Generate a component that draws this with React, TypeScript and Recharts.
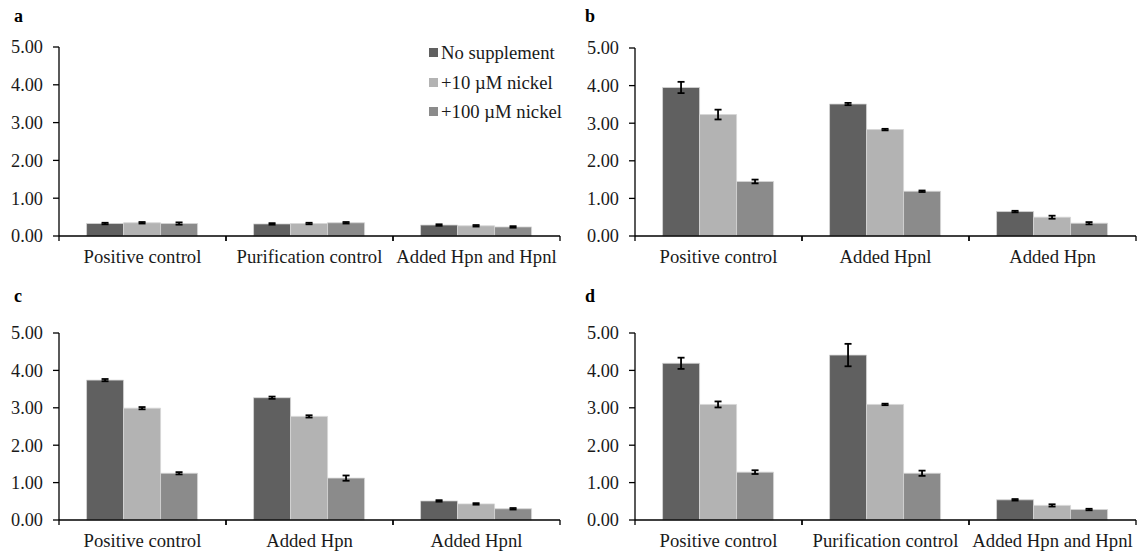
import { BarChart, Bar, XAxis, YAxis, ErrorBar, Legend } from "recharts";

const seriesNames = ["No supplement", "+10 µM nickel", "+100 µM nickel"];
const seriesColors = ["#606060", "#b3b3b3", "#8b8b8b"];
const yTicks = [0, 1, 2, 3, 4, 5];

// panel a
const aCategories = ["Positive control", "Purification control", "Added Hpn and Hpnl"];
const aNone = [0.33, 0.32, 0.29];
const aNickel10 = [0.35, 0.33, 0.27];
const aNickel100 = [0.33, 0.35, 0.24];
const aErrNone = [0.02, 0.02, 0.02];
const aErr10 = [0.02, 0.02, 0.02];
const aErr100 = [0.03, 0.02, 0.02];

// panel b
const bCategories = ["Positive control", "Added Hpnl", "Added Hpn"];
const bNone = [3.95, 3.51, 0.65];
const bNickel10 = [3.23, 2.83, 0.5];
const bNickel100 = [1.45, 1.19, 0.34];
const bErrNone = [0.15, 0.03, 0.02];
const bErr10 = [0.13, 0.02, 0.04];
const bErr100 = [0.05, 0.02, 0.03];

// panel c
const cCategories = ["Positive control", "Added Hpn", "Added Hpnl"];
const cNone = [3.74, 3.27, 0.51];
const cNickel10 = [2.99, 2.77, 0.43];
const cNickel100 = [1.25, 1.12, 0.3];
const cErrNone = [0.03, 0.03, 0.02];
const cErr10 = [0.03, 0.03, 0.02];
const cErr100 = [0.03, 0.07, 0.02];

// panel d
const dCategories = ["Positive control", "Purification control", "Added Hpn and Hpnl"];
const dNone = [4.19, 4.41, 0.54];
const dNickel10 = [3.09, 3.09, 0.39];
const dNickel100 = [1.28, 1.25, 0.28];
const dErrNone = [0.15, 0.3, 0.02];
const dErr10 = [0.08, 0.02, 0.03];
const dErr100 = [0.05, 0.07, 0.02];

const FONT = "'Liberation Serif', 'Times New Roman', serif";
const TEXT = "#1a1a1a";

function buildRows(categories: string[], values: number[][], errors: number[][]) {
  return categories.map((name, i) => {
    const row: Record<string, string | number> = { name };
    values.forEach((v, s) => {
      row["s" + s] = v[i];
      row["e" + s] = errors[s][i];
    });
    return row;
  });
}

// category label plus tick marks at the band edges (Excel style)
function CategoryTick(props: any) {
  const { x, y, payload } = props;
  const half = payload.offset || 0;
  return (
    <g>
      <line x1={x - half} y1={y} x2={x - half} y2={y + 5} stroke="#000" strokeWidth={1.3} />
      <line x1={x + half} y1={y} x2={x + half} y2={y + 5} stroke="#000" strokeWidth={1.3} />
      <text x={x} y={y + 27} textAnchor="middle" fontSize={18.7} fontFamily={FONT} fill={TEXT}>
        {payload.value}
      </text>
    </g>
  );
}

function LegendBox(props: any) {
  const items = [...(props.payload || [])].sort(
    (p: any, q: any) => seriesNames.indexOf(p.value) - seriesNames.indexOf(q.value)
  );
  return (
    <div style={{ fontFamily: FONT, fontSize: 18.7, color: TEXT }}>
      {items.map((item: any) => (
        <div key={item.value} style={{ height: 29.5, lineHeight: "29.5px", display: "flex", alignItems: "center" }}>
          <span style={{ display: "inline-block", width: 9, height: 9, background: item.color, marginRight: 3 }} />
          {item.value}
        </div>
      ))}
    </div>
  );
}

interface PanelProps {
  letter: string;
  left: number;
  top: number;
  width: number;
  height: number;
  margin: { top: number; right: number; bottom: number; left: number };
  yWidth: number;
  categories: string[];
  values: number[][];
  errors: number[][];
  showLegend?: boolean;
}

function Panel({ letter, left, top, width, height, margin, yWidth, categories, values, errors, showLegend }: PanelProps) {
  const data = buildRows(categories, values, errors);

  return (
    <div style={{ position: "absolute", left, top, width, height, fontFamily: FONT }}>
      <div
        style={{
          position: "absolute",
          left: letter === "a" || letter === "c" ? 14 : 15,
          top: 7,
          fontSize: 18,
          lineHeight: "18px",
          fontWeight: "bold",
          color: "#000",
          zIndex: 2,
        }}
      >
        {letter}
      </div>
      <BarChart width={width} height={height} data={data} margin={margin} barCategoryGap="16.5%" barGap={0}>
        <XAxis
          dataKey="name"
          interval={0}
          height={30}
          tickLine={false}
          tickSize={0}
          tickMargin={0}
          axisLine={{ stroke: "#000", strokeWidth: 1.3 }}
          tick={<CategoryTick />}
        />
        <YAxis
          width={yWidth}
          domain={[0, 5]}
          ticks={yTicks}
          interval={0}
          tickSize={6}
          tickMargin={10}
          tickFormatter={(v: number) => v.toFixed(2)}
          tick={{ fontSize: 18.3, fill: TEXT, fontFamily: FONT }}
          axisLine={{ stroke: "#000", strokeWidth: 1.3 }}
          tickLine={{ stroke: "#000", strokeWidth: 1.3 }}
        />
        {showLegend && (
          <Legend
            layout="vertical"
            align="center"
            verticalAlign="middle"
            content={<LegendBox />}
            wrapperStyle={{ left: 429, top: 38, width: 140 }}
          />
        )}
        {seriesNames.map((name, s) => (
          <Bar
            key={name}
            dataKey={"s" + s}
            name={name}
            fill={seriesColors[s]}
            stroke="#d6d6d6"
            strokeWidth={0.8}
            isAnimationActive={false}
          >
            <ErrorBar dataKey={"e" + s} width={3.5} stroke="#000" strokeWidth={1.8} />
          </Bar>
        ))}
      </BarChart>
    </div>
  );
}

export default function App() {
  return (
    <div style={{ position: "absolute", left: 0, top: 0, width: 1138, height: 554, background: "#fff" }}>
      <Panel
        letter="a"
        left={0}
        top={0}
        width={570}
        height={280}
        margin={{ top: 47, right: 10, bottom: 14, left: 0 }}
        yWidth={59}
        categories={aCategories}
        values={[aNone, aNickel10, aNickel100]}
        errors={[aErrNone, aErr10, aErr100]}
        showLegend
      />
      <Panel
        letter="b"
        left={570}
        top={0}
        width={568}
        height={280}
        margin={{ top: 48, right: 2, bottom: 14, left: 0 }}
        yWidth={65}
        categories={bCategories}
        values={[bNone, bNickel10, bNickel100]}
        errors={[bErrNone, bErr10, bErr100]}
      />
      <Panel
        letter="c"
        left={0}
        top={280}
        width={570}
        height={274}
        margin={{ top: 53, right: 10, bottom: 4, left: 0 }}
        yWidth={59}
        categories={cCategories}
        values={[cNone, cNickel10, cNickel100]}
        errors={[cErrNone, cErr10, cErr100]}
      />
      <Panel
        letter="d"
        left={570}
        top={280}
        width={568}
        height={274}
        margin={{ top: 53, right: 2, bottom: 4, left: 0 }}
        yWidth={65}
        categories={dCategories}
        values={[dNone, dNickel10, dNickel100]}
        errors={[dErrNone, dErr10, dErr100]}
      />
    </div>
  );
}
